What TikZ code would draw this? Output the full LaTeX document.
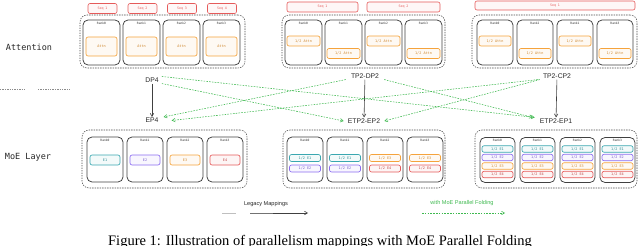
\documentclass[tikz,border=0pt]{standalone}
\usepackage{fontspec}
\setmainfont{Liberation Serif}
\setsansfont{Liberation Sans}
\setmonofont{DejaVu Sans Mono}
\usetikzlibrary{arrows.meta,calc}
\definecolor{seqred}{HTML}{E55A5A}
\definecolor{attnor}{HTML}{F5A33C}
\definecolor{eteal}{HTML}{3AA7B0}
\definecolor{epurp}{HTML}{8B6CF0}
\definecolor{eorange}{HTML}{F5A33C}
\definecolor{ered}{HTML}{E55A5A}
\definecolor{fgreen}{HTML}{3FB950}
\begin{document}
\begin{tikzpicture}[x=1pt,y=-1pt,
  grp/.style={draw=black!70, dash pattern=on 1.4pt off 1.1pt, rounded corners=7pt, line width=0.55pt, inner sep=0pt},
  rankbox/.style={draw=black!75, line width=0.75pt, rounded corners=5pt, minimum width=37pt, minimum height=45pt, inner sep=0pt},
  ranklbl/.style={font=\ttfamily\fontsize{3}{3.5}\selectfont, text=black!80, inner sep=0pt},
  seqbox/.style={draw=seqred, fill=seqred!5, rounded corners=2pt, line width=0.6pt, minimum height=10pt, inner sep=0pt, font=\ttfamily\fontsize{3.3}{4}\selectfont, text=seqred},
  xbox/.style={draw=#1, fill=#1!6, text=#1!85!black, rounded corners=2pt, line width=0.65pt, inner sep=0pt, font=\ttfamily\fontsize{3.5}{4}\selectfont},
  sidelbl/.style={font=\ttfamily\fontsize{8.5}{10}\selectfont, text=black!85},
  maplbl/.style={font=\sffamily\fontsize{6.8}{8}\selectfont, text=black!85, inner sep=1pt},
  blackarrow/.style={draw=black!75, line width=0.6pt, -{Straight Barb[length=3pt,width=3.5pt]}},
  greenarrow/.style={draw=fgreen, line width=0.55pt, dash pattern=on 1.6pt off 1.2pt, -{Straight Barb[length=3pt,width=3.5pt]}}
]
\useasboundingbox (0,0) rectangle (640,246);

% side labels
\node[sidelbl] (attlbl) at (29,47) {Attention};
\node[sidelbl] (moelbl) at (28,157) {MoE Layer};
\draw[black!45, line width=0.5pt, dash pattern=on 1.3pt off 1.1pt] (0,89) -- (25,89);
\draw[black!45, line width=0.5pt, dash pattern=on 1.3pt off 1.1pt] (38,89) -- (70,89);

% ---------- Attention group 1 : DP4
\node[grp, minimum width=165pt, minimum height=53pt] (ag1) at (162.5,41.5) {};
\foreach \i/\x in {0/101.5,1/141.5,2/181.5,3/221.5} {
  \node[rankbox] (a1r\i) at (\x,42.5) {};
  \node[ranklbl] (a1l\i) at ([yshift=-4pt]a1r\i.north) {Rank\i};
  \node[xbox=attnor, minimum width=31pt, minimum height=19pt] (a1x\i) at (\x,46.5) {Attn};
}
\foreach \i/\x in {1/102.5,2/142.5,3/182,4/222}
  \node[seqbox, minimum width=29pt] (s1\i) at (\x,8.5) {Seq \i};

% ---------- Attention group 2 : TP2-DP2
\node[grp, minimum width=163pt, minimum height=53pt] (ag2) at (363.5,41.5) {};
\foreach \i/\x/\y in {0/303.5/41,1/343.5/53.5,2/383.5/41,3/423.5/53.5} {
  \node[rankbox] (a2r\i) at (\x,42.5) {};
  \node[ranklbl] (a2l\i) at ([yshift=-4pt]a2r\i.north) {Rank\i};
  \node[xbox=attnor, minimum width=33pt, minimum height=10pt] (a2x\i) at (\x,\y) {1/2 Attn};
}
\node[seqbox, minimum width=71pt] (s21) at (322.5,7) {Seq 1};
\node[seqbox, minimum width=73pt] (s22) at (403.5,7) {Seq 2};

% ---------- Attention group 3 : TP2-CP2
\node[grp, minimum width=165pt, minimum height=53pt] (ag3) at (554.5,41.5) {};
\foreach \i/\n/\x/\y in {0/0/495/41,1/2/535/53.5,2/1/575/41,3/3/615/53.5} {
  \node[rankbox, minimum width=36pt] (a3r\i) at (\x,42.5) {};
  \node[ranklbl] (a3l\i) at ([yshift=-4pt]a3r\i.north) {Rank\n};
  \node[xbox=attnor, minimum width=32pt, minimum height=10pt] (a3x\i) at (\x,\y) {1/2 Attn};
}
\node[seqbox, minimum width=160pt, minimum height=9pt] (s31) at (555,5.5) {Seq 1};

% ---------- mapping labels
\node[maplbl] (dp4) at (152,80) {DP4};
\node[maplbl] (tpdp) at (365,76) {TP2-DP2};
\node[maplbl] (tpcp) at (557,76) {TP2-CP2};
\node[maplbl] (ep4) at (152,120.5) {EP4};
\node[maplbl] (etpa) at (364,121) {ETP2-EP2};
\node[maplbl] (etpb) at (556,121) {ETP2-EP1};

\draw[blackarrow] (dp4) -- (ep4);
\draw[blackarrow] (tpdp) -- (etpa);
\draw[blackarrow] (tpcp) -- (etpb);

\draw[greenarrow] ([xshift=2pt]dp4.north east) -- ([xshift=-4pt]etpb.north west);
\draw[greenarrow] ([xshift=2pt]dp4.south east) -- ([xshift=-3pt]etpa.west);
\draw[greenarrow] ([xshift=-4pt]tpdp.south west) -- ([xshift=4pt]ep4.north east);
\draw[greenarrow] ([xshift=4pt]tpdp.south east) -- ([xshift=-6pt]etpb.north west);
\draw[greenarrow] ([xshift=-4pt]tpcp.south west) -- ([xshift=12pt]ep4.east);
\draw[greenarrow] ([xshift=-2pt]tpcp.south west) -- ([xshift=3pt]etpa.east);

% ---------- MoE group 1 : EP4
\node[grp, minimum width=165pt, minimum height=58pt] (mg1) at (164.5,159) {};
\foreach \i/\x/\c in {0/105/eteal,1/145/epurp,2/185/eorange,3/225/ered} {
  \node[rankbox, minimum width=36pt] (m1r\i) at (\x,159.5) {};
  \node[ranklbl] (m1l\i) at ([yshift=-4pt]m1r\i.north) {Rank\i};
  \pgfmathtruncatemacro{\e}{\i+1}
  \node[xbox=\c, minimum width=30pt, minimum height=10pt] (m1x\i) at (\x,160) {E\e};
}

% ---------- MoE group 2 : ETP2-EP2
\node[grp, minimum width=162pt, minimum height=58pt] (mg2) at (364,159) {};
\foreach \i/\x/\ca/\ea/\cb/\eb in {0/305/eteal/1/epurp/2,1/345/eteal/1/epurp/2,2/385/eorange/3/ered/4,3/425/eorange/3/ered/4} {
  \node[rankbox, minimum width=36pt] (m2r\i) at (\x,159.5) {};
  \node[ranklbl] (m2l\i) at ([yshift=-4pt]m2r\i.north) {Rank\i};
  \node[xbox=\ca, minimum width=31pt, minimum height=7pt] (m2a\i) at (\x,158) {1/2 E\ea};
  \node[xbox=\cb, minimum width=31pt, minimum height=7pt] (m2b\i) at (\x,168.5) {1/2 E\eb};
}

% ---------- MoE group 3 : ETP2-EP1
\node[grp, minimum width=162pt, minimum height=58pt] (mg3) at (556,159) {};
\foreach \i/\x in {0/497.5,1/537.5,2/577.5,3/617.5} {
  \node[rankbox, minimum width=35pt] (m3r\i) at (\x,160) {};
  \node[ranklbl] (m3l\i) at ([yshift=-3.5pt]m3r\i.north) {Rank\i};
  \node[xbox=eteal, minimum width=31pt, minimum height=6.5pt] (m3a\i) at (\x,149) {1/2 E1};
  \node[xbox=epurp, minimum width=31pt, minimum height=6.5pt] (m3b\i) at (\x,157.5) {1/2 E2};
  \node[xbox=eorange, minimum width=31pt, minimum height=6.5pt] (m3c\i) at (\x,166) {1/2 E3};
  \node[xbox=ered, minimum width=31pt, minimum height=6.5pt] (m3d\i) at (\x,174.5) {1/2 E4};
}

% ---------- legend
\node[font=\sffamily\fontsize{5.6}{6.5}\selectfont, text=black!85] (leg1) at (266,204) {Legacy Mappings};
\coordinate (l1a) at (222,213);
\coordinate (l1b) at (236,213);
\coordinate (l1c) at (250,213);
\coordinate (l1d) at (308,213);
\coordinate (l1m) at (273,213);
\draw[black!25, line width=0.6pt] (l1a) -- (l1b);
\draw[black!55, line width=0.6pt] (l1c) -- (l1m);
\draw[black!75, line width=0.6pt, -{Straight Barb[length=3pt,width=3.5pt]}] (l1m) -- (l1d);
\node[font=\sffamily\fontsize{5.6}{6.5}\selectfont, text=fgreen] (leg2) at (462,203) {with MoE Parallel Folding};
\coordinate (l2a) at (422,213);
\coordinate (l2b) at (505,213);
\draw[greenarrow] (l2a) -- (l2b);

% ---------- caption (cut at bottom)
\node[anchor=base, font=\fontsize{14.5}{16}\selectfont, inner sep=0pt] (cap) at (320,245) {Figure 1: Illustration of parallelism mappings with MoE Parallel Folding};
\end{tikzpicture}
\end{document}
